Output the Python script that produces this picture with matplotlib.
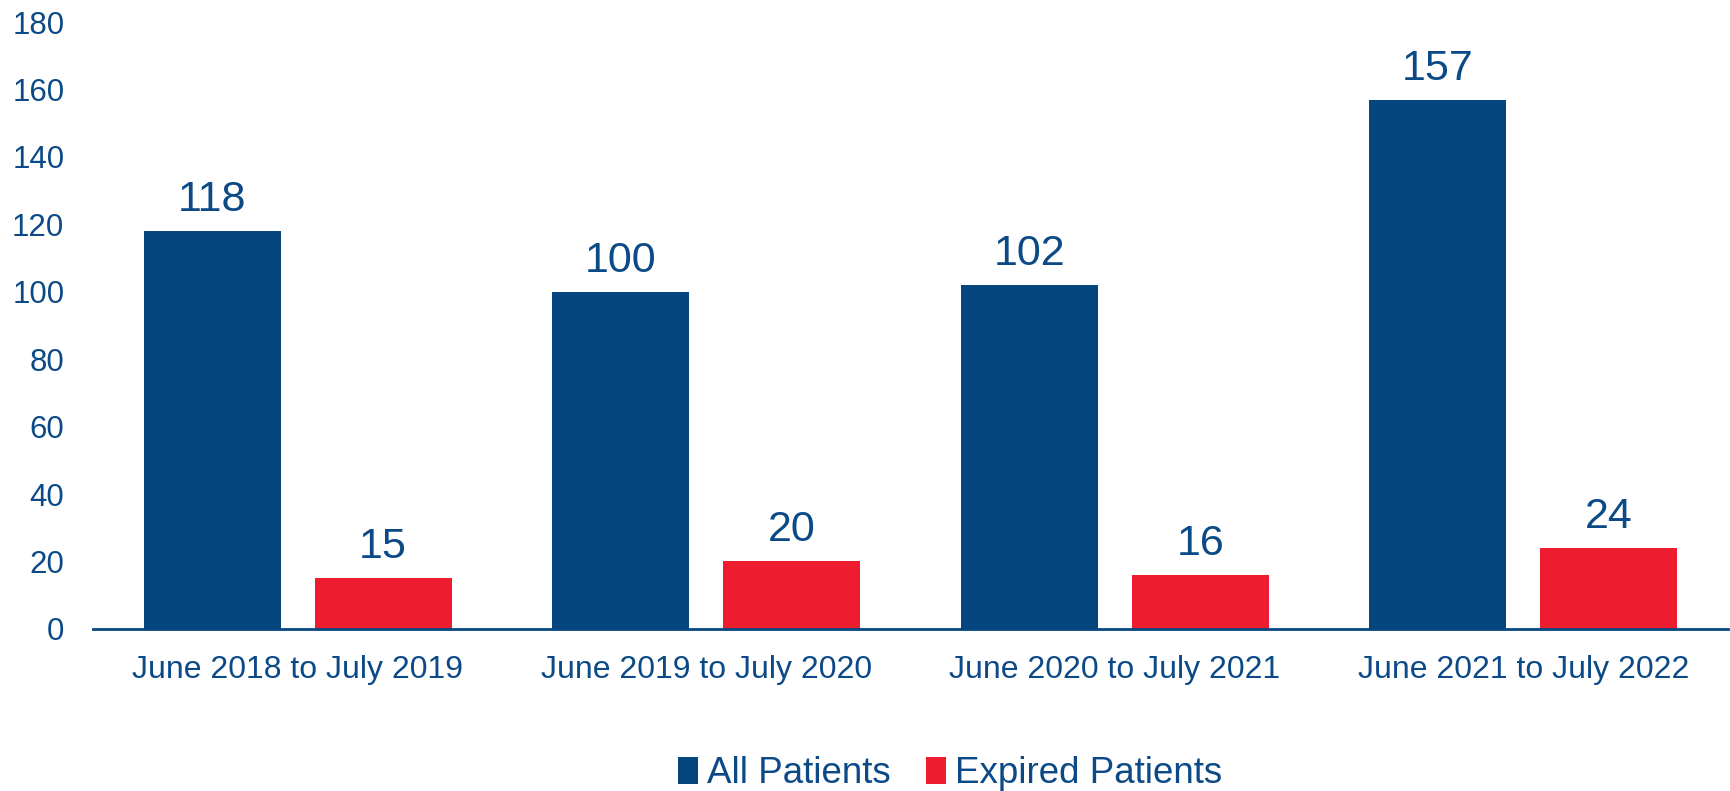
import numpy as np
import matplotlib
matplotlib.use("Agg")
import matplotlib.pyplot as plt

plt.rcParams['font.family'] = ['Liberation Sans', 'DejaVu Sans']

# data
periods = ["June 2018 to July 2019", "June 2019 to July 2020",
           "June 2020 to July 2021", "June 2021 to July 2022"]
all_patients = [118, 100, 102, 157]
expired_patients = [15, 20, 16, 24]
y_ticks = [0, 20, 40, 60, 80, 100, 120, 140, 160, 180]

blue = '#064680'
red = '#ED1C2E'
text_col = '#0C4A87'

fig = plt.figure(figsize=(17.31, 7.91), dpi=100)
ax = fig.add_axes([0.054, 0.205, 0.944, 0.767])

x = np.arange(len(periods))
w = 0.335
off = 0.209
b1 = ax.bar(x - off, all_patients, w, color=blue, label='All Patients')
b2 = ax.bar(x + off, expired_patients, w, color=red, label='Expired Patients')

# value labels
for bars in (b1, b2):
    for r in bars:
        ax.annotate(f"{int(r.get_height())}",
                    (r.get_x() + r.get_width() / 2, r.get_height()),
                    xytext=(0, 8), textcoords='offset points',
                    ha='center', va='bottom', fontsize=31, color=text_col)

ax.set_xlim(-0.5, len(periods) - 0.5)
ax.set_ylim(0, 180)
ax.set_yticks(y_ticks)
ax.set_xticks(x)
ax.set_xticklabels(periods)
ax.tick_params(axis='y', length=0, pad=21, labelsize=22.5, labelcolor=text_col)
ax.tick_params(axis='x', length=0, pad=19, labelsize=23, labelcolor=text_col)

for s in ('top', 'right', 'left'):
    ax.spines[s].set_visible(False)
ax.spines['bottom'].set_color(blue)
ax.spines['bottom'].set_linewidth(2)

leg = fig.legend(handles=[b1, b2], loc='center', bbox_to_anchor=(0.549, 0.022),
                 ncol=2, frameon=False, fontsize=26.5, handlelength=0.55,
                 handleheight=0.75, handletextpad=0.25, columnspacing=0.95)
for t in leg.get_texts():
    t.set_color(text_col)

fig.savefig('out.png', dpi=100)
